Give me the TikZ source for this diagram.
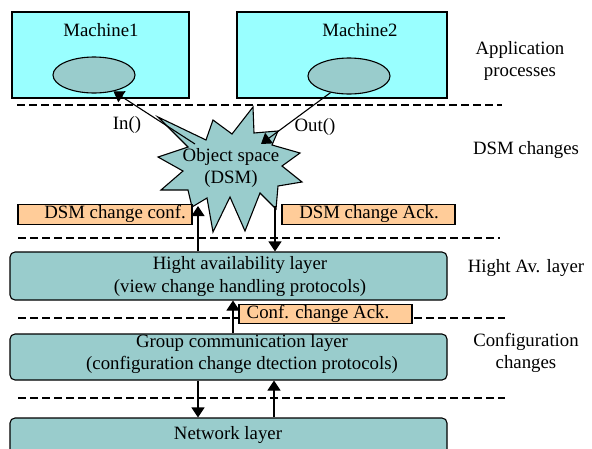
\documentclass[tikz,border=0pt]{standalone}
\usepackage{fontspec}
\setmainfont{Liberation Serif}
\usetikzlibrary{arrows.meta,shapes.geometric}

\definecolor{machinefill}{HTML}{99FFFF}
\definecolor{tealfill}{HTML}{99CCCC}
\definecolor{notefill}{HTML}{FFCC99}

\tikzset{
  tip/.tip={Triangle[length=10pt,width=13pt]},
}

\begin{document}
\begin{tikzpicture}[x=1pt,y=-1pt,
  every node/.style={font=\fontsize{18.8}{22}\selectfont, inner sep=0pt},
  machine/.style={draw, line width=1.2pt, fill=machinefill, minimum width=#1, minimum height=86pt},
  proc/.style={draw, line width=1.1pt, fill=tealfill, ellipse, minimum width=82pt, minimum height=36pt},
  layer/.style={draw, line width=1.1pt, fill=tealfill, rounded corners=5pt, minimum width=437pt, minimum height=#1},
  note/.style={draw, line width=1.1pt, fill=notefill, minimum width=#1, minimum height=19.5pt},
  sep/.style={dash pattern=on 8pt off 4pt, line width=1.5pt},
  flow/.style={-tip, line width=1.1pt},
  caption/.style={align=center},
]
\useasboundingbox (0,0) rectangle (592,448);
\clip (0,0) rectangle (592,448);
\fill[white] (0,0) rectangle (592,448);

% layer separators
\draw[sep] (17,105) -- (502,105);
\draw[sep] (18,238) -- (500,238);
\draw[sep] (18,318) -- (505,318);
\draw[sep] (18,398) -- (505,398);

% machines with their processes
\node[machine=177pt] (m1) at (100.5,55) {};
\node[machine=210pt] (m2) at (342,55) {};
\node (m1t) at (101,30) {Machine1};
\node (m2t) at (360,30) {Machine2};
\node[proc] (e1) at (94,75) {};
\node[proc] (e2) at (349,76) {};

% shared object space
\draw[fill=tealfill, line width=1.1pt]
  (253,107) -- (254,133) -- (278,131) -- (272,145) -- (300,153) -- (282,166)
  -- (302,182) -- (278,186) -- (276,209) -- (260,193) -- (245,231) -- (230,197)
  -- (213,232) -- (207,198) -- (192,207) -- (188,190) -- (161,190) -- (183,171)
  -- (158,157) -- (188,147) -- (158,117) -- (206,140) -- (213,120) -- (232,134)
  -- cycle;
\node[caption] (dsm) at (231,168) {Object space\\(DSM)};

% messages between the object space and the processes
\coordinate (inS) at (195,144);
\coordinate (outS) at (261,144);
\draw[flow] (inS) -- (e1.-40);
\draw[flow] (e2.-138) -- (outS);
\node (inT) at (127,125) {In()};
\node (outT) at (315,127) {Out()};

% layers
\node[layer=48pt] (ha) at (228.5,276) {};
\node[layer=46pt] (gc) at (228.5,357) {};
\node[layer=46pt] (net) at (228.5,441) {};
\node[caption] (hat) at (240,276.5) {Hight availability layer\\(view change handling protocols)};
\node[caption] (gct) at (242,354) {Group communication layer\\(configuration change dtection protocols)};
\node (nett) at (228,435) {Network layer};

% acknowledgement notes
\node[note=174pt] (n1) at (105,214.5) {};
\node[note=173pt] (n2) at (368.5,214.5) {};
\node[note=173pt] (n3) at (325.5,314) {};
\node (n1t) at (115,214) {DSM change conf.};
\node (n2t) at (369,214) {DSM change Ack.};
\node (n3t) at (318,313.5) {Conf. change Ack.};

% vertical flows between layers
\coordinate (upA) at (198,206);
\coordinate (dnA) at (275,206);
\coordinate (upB) at (233,0);
\coordinate (dnC) at (198,0);
\coordinate (upC) at (274,0);
\draw[flow] (upA |- ha.north) -- (upA);
\draw[flow] (dnA) -- (dnA |- ha.north);
\draw[flow] (upB |- gc.north) -- (upB |- ha.south);
\draw[flow] (dnC |- gc.south) -- (dnC |- net.north);
\draw[flow] (upC |- net.north) -- (upC |- gc.south);

% layer captions on the right
\node[caption] (c1) at (520,60.5) {Application\\processes};
\node (c2) at (526,150) {DSM changes};
\node (c3) at (526,268) {Hight Av. layer};
\node[caption] (c4) at (526,353) {Configuration\\changes};
\end{tikzpicture}
\end{document}
